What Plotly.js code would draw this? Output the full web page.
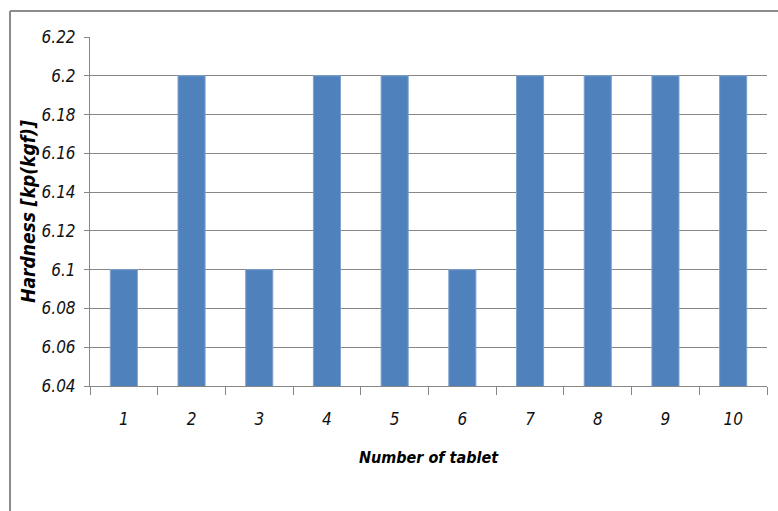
<!DOCTYPE html>
<html>
<head>
<meta charset="utf-8">
<script src="https://cdn.plot.ly/plotly-3.0.1.min.js"></script>
<style>
  html, body { margin: 0; padding: 0; background: #fff; }
  #chart { width: 778px; height: 511px; }
</style>
</head>
<body>
<div id="chart"></div>
<script>
// Tablet numbers and measured hardness values
const tablets = ['1', '2', '3', '4', '5', '6', '7', '8', '9', '10'];
const hardness = [6.1, 6.2, 6.1, 6.2, 6.2, 6.1, 6.2, 6.2, 6.2, 6.2];
const yTicks = [6.04, 6.06, 6.08, 6.1, 6.12, 6.14, 6.16, 6.18, 6.2, 6.22];
const yTickText = ['6.04', '6.06', '6.08', '6.1', '6.12', '6.14', '6.16', '6.18', '6.2', '6.22'];

const FONT = '"DejaVu Sans Condensed", "Liberation Sans Narrow", "Arial Narrow", sans-serif';
const GRID = '#868686';

const trace = {
  type: 'bar',
  x: tablets,
  y: hardness,
  base: 0,
  marker: { color: '#4F81BD', line: { color: '#7EA1CF', width: 1 } },
  hoverinfo: 'x+y'
};

const layout = {
  width: 778,
  height: 511,
  margin: { l: 90, r: 11, t: 37, b: 125, pad: 0 },
  paper_bgcolor: '#fff',
  plot_bgcolor: '#fff',
  showlegend: false,
  bargap: 0.6,
  font: { family: FONT, color: '#000', size: 17 },
  xaxis: {
    type: 'category',
    tickson: 'boundaries',
    ticks: 'outside',
    ticklen: 8,
    tickcolor: GRID,
    ticklabelstandoff: 18,
    showline: true,
    linecolor: GRID,
    linewidth: 1,
    showgrid: false,
    tickfont: { family: FONT, size: 17, style: 'italic', color: '#111' },
    title: {
      text: '<b><i>Number of tablet</i></b>',
      font: { family: FONT, size: 16, color: '#000' },
      standoff: 23
    }
  },
  yaxis: {
    range: [6.04, 6.22],
    tickvals: yTicks,
    ticktext: yTickText,
    ticks: 'outside',
    ticklen: 5,
    tickcolor: GRID,
    ticklabelstandoff: 5,
    showline: true,
    linecolor: GRID,
    linewidth: 1,
    showgrid: true,
    gridcolor: GRID,
    gridwidth: 1,
    zeroline: false,
    tickfont: { family: FONT, size: 17, style: 'italic', color: '#111' },
    title: {
      text: '<b><i>Hardness [kp(kgf)]</i></b>',
      font: { family: FONT, size: 19, color: '#000' },
      standoff: 0
    }
  },
  shapes: [
    // chart area frame: top and left edges
    { type: 'line', xref: 'paper', yref: 'paper', x0: -80 / 677, x1: 1.05, y0: 1 + 26 / 349, y1: 1 + 26 / 349,
      line: { color: '#8C8C8C', width: 2 } },
    { type: 'line', xref: 'paper', yref: 'paper', x0: -80 / 677, x1: -80 / 677, y0: 1 + 26 / 349, y1: -0.4,
      line: { color: '#8C8C8C', width: 2 } }
  ]
};

Plotly.newPlot('chart', [trace], layout, { displayModeBar: false, staticPlot: true });
</script>
</body>
</html>
